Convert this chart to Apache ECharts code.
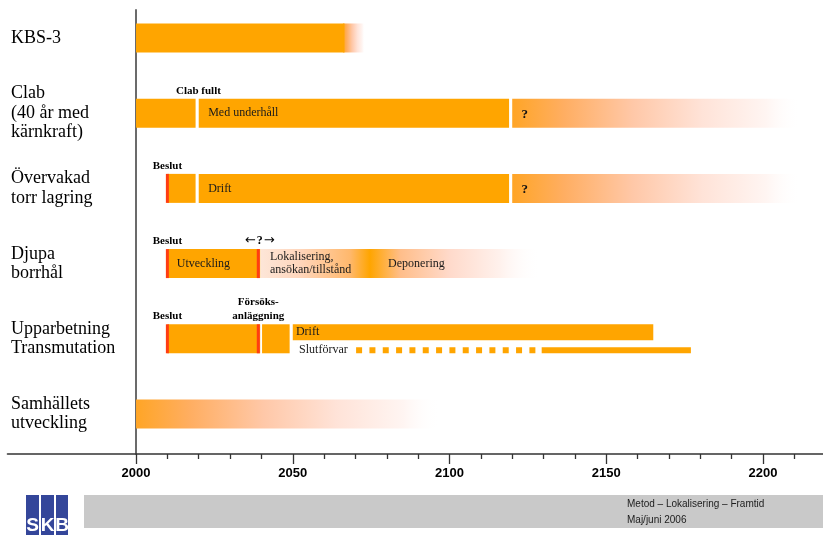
<!DOCTYPE html>
<html>
<head>
<meta charset="utf-8">
<script src="https://cdn.jsdelivr.net/npm/echarts@6/dist/echarts.min.js"></script>
<style>
  html, body { margin: 0; padding: 0; background: #fff; }
  #chart { width: 823px; height: 535px; }
</style>
</head>
<body>
<div id="chart"></div>
<script>
// ---- timeline content ----
const rowNames = [
  'KBS-3',
  'Clab\n(40 år med\nkärnkraft)',
  'Övervakad\ntorr lagring',
  'Djupa\nborrhål',
  'Upparbetning\nTransmutation',
  'Samhällets\nutveckling'
];
const rowIndex = [0, 1, 2, 3, 4, 5];

const yearLabels = [2000, 2050, 2100, 2150, 2200];
const decadeTicks = [2010, 2020, 2030, 2040, 2060, 2070, 2080, 2090, 2110, 2120, 2130, 2140,
                     2160, 2170, 2180, 2190, 2210];

// solid phases: [row, from, to]
const solidPhases = [
  [0, 2000, 2066.5],
  [1, 2000, 2019], [1, 2020, 2119],
  [2, 2010, 2019], [2, 2020, 2119],
  [3, 2010, 2039.6],
  [4, 2010, 2039.6], [4, 2040.2, 2049]
];
// open-ended phases that fade out: [row, from, to]
const fadingPhases = [
  [0, 2066, 2073],
  [1, 2120, 2212],
  [2, 2120, 2212],
  [5, 2000, 2097]
];
// phase that builds up and then fades: [row, from, to, peak]
const swellPhases = [
  [3, 2039.7, 2129, 2074.6]
];
// decisions: [row, year]
const decisions = [[2, 2010], [3, 2010], [3, 2039], [4, 2010], [4, 2039]];
// operation of the transmutation plant: [row, from, to]
const operation = [[4, 2050, 2165]];
// final repository for residues: [row, from, to]
const repositoryUncertain = [[4, 2070.2, 2127.4]];
const repositoryPlanned = [[4, 2129.4, 2177]];

// texts inside the bars: [row, year, text, lane]
const barTexts = [
  [1, 2023, 'Med underhåll', 'mid'],
  [2, 2023, 'Drift', 'mid'],
  [3, 2013, 'Utveckling', 'mid'],
  [3, 2042.7, 'Lokalisering,\nansökan/tillstånd', 'mid'],
  [3, 2080.4, 'Deponering', 'mid'],
  [4, 2051, 'Drift', 'upper'],
  [4, 2052, 'Slutförvar', 'lower']
];
const openQuestions = [[1, 2124], [2, 2124]];
// notes above the bars: [row, year, text]
const milestones = [
  [1, 2019.9, 'Clab fullt'],
  [2, 2010, 'Beslut'],
  [3, 2010, 'Beslut'],
  [3, 2039.5, '{a|\u2190}{q|?}{a|\u2192}'],
  [4, 2010, 'Beslut'],
  [4, 2039, 'Försöks-\nanläggning']
];

// ---- styling ----
const ORANGE = '#ffa500';
const RED = '#ff3d12';
const BAR_H = 29;
const SERIF = '"Liberation Serif", "Times New Roman", serif';
const SANS = '"Liberation Sans", Arial, sans-serif';

function fadeFill() {
  return new echarts.graphic.LinearGradient(0, 0, 1, 0, [
    { offset: 0, color: '#ffa526' },
    { offset: 0.18, color: '#ffae62' },
    { offset: 0.42, color: '#ffc8a8' },
    { offset: 0.66, color: '#ffe3d8' },
    { offset: 0.88, color: '#fff5f2' },
    { offset: 1, color: 'rgba(255,255,255,0)' }
  ]);
}
function swellFill(pf) {
  const after = f => pf + (1 - pf) * f;
  return new echarts.graphic.LinearGradient(0, 0, 1, 0, [
    { offset: 0, color: '#fde6d8' },
    { offset: pf * 0.36, color: '#ffd6bc' },
    { offset: pf * 0.82, color: '#ffb86c' },
    { offset: pf, color: ORANGE },
    { offset: after(0.18), color: '#ffbe8a' },
    { offset: after(0.47), color: '#ffdacb' },
    { offset: after(0.76), color: '#fff1ec' },
    { offset: 1, color: 'rgba(255,255,255,0)' }
  ]);
}

function barRect(api, row, from, to, top, h) {
  const a = api.coord([from, row]);
  const b = api.coord([to, row]);
  return { x: a[0], y: a[1] + top, width: b[0] - a[0], height: h };
}

function laneOffset(lane) {
  if (lane === 'upper') return -6.5;
  if (lane === 'lower') return 11.5;
  return 0;
}

const chart = echarts.init(document.getElementById('chart'), null, { renderer: 'canvas' });

const option = {
  animation: false,
  backgroundColor: '#ffffff',
  grid: { left: 7.5, top: 10, width: 818.2, height: 444, outerBoundsMode: 'none', containLabel: false },
  xAxis: [
    {
      type: 'value', position: 'bottom', min: 1959, max: 2220,
      axisLine: { show: true, onZero: false, lineStyle: { color: '#333333', width: 1.6 } },
      axisTick: { show: true, customValues: decadeTicks, length: 5, lineStyle: { color: '#333333', width: 1.3 } },
      axisLabel: { show: false },
      splitLine: { show: false }
    },
    {
      type: 'value', position: 'bottom', min: 1959, max: 2220,
      axisLine: { show: false, onZero: false },
      axisTick: { show: true, customValues: yearLabels, length: 10, lineStyle: { color: '#333333', width: 1.3 } },
      axisLabel: {
        show: true, customValues: yearLabels, margin: 13,
        formatter: v => String(v),
        fontFamily: SANS, fontWeight: 'bold', fontSize: 13, color: '#000'
      },
      splitLine: { show: false }
    }
  ],
  yAxis: {
    type: 'value', inverse: true, min: -0.372, max: 5.532,
    position: 'left', offset: -128.5,
    axisLine: { show: true, onZero: false, lineStyle: { color: '#6b6b6b', width: 2 } },
    axisTick: { show: false },
    splitLine: { show: false },
    axisLabel: {
      show: true, customValues: rowIndex, margin: 125, align: 'left',
      formatter: v => rowNames[v],
      fontFamily: SERIF, fontSize: 18, lineHeight: 19.5, color: '#000',
      padding: [7, 0, 0, 0]
    }
  },
  series: [
    {
      name: 'fading', type: 'custom', data: fadingPhases, z: 2,
      encode: { x: [1, 2], y: 0 },
      renderItem: (params, api) => {
        const d = fadingPhases[params.dataIndex];
        return { type: 'rect', shape: barRect(api, d[0], d[1], d[2], -BAR_H / 2, BAR_H), style: { fill: fadeFill() } };
      }
    },
    {
      name: 'swell', type: 'custom', data: swellPhases, z: 2,
      encode: { x: [1, 2], y: 0 },
      renderItem: (params, api) => {
        const d = swellPhases[params.dataIndex];
        const pf = (d[3] - d[1]) / (d[2] - d[1]);
        return { type: 'rect', shape: barRect(api, d[0], d[1], d[2], -BAR_H / 2, BAR_H), style: { fill: swellFill(pf) } };
      }
    },
    {
      name: 'solid', type: 'custom', data: solidPhases, z: 3,
      encode: { x: [1, 2], y: 0 },
      renderItem: (params, api) => {
        const d = solidPhases[params.dataIndex];
        return { type: 'rect', shape: barRect(api, d[0], d[1], d[2], -BAR_H / 2, BAR_H), style: { fill: ORANGE } };
      }
    },
    {
      name: 'operation', type: 'custom', data: operation, z: 3,
      encode: { x: [1, 2], y: 0 },
      renderItem: (params, api) => {
        const d = operation[params.dataIndex];
        return { type: 'rect', shape: barRect(api, d[0], d[1], d[2], -BAR_H / 2, 16), style: { fill: ORANGE } };
      }
    },
    {
      name: 'repository uncertain', type: 'custom', data: repositoryUncertain, z: 3,
      encode: { x: [1, 2], y: 0 },
      renderItem: (params, api) => {
        const d = repositoryUncertain[params.dataIndex];
        const a = api.coord([d[1], d[0]]);
        const b = api.coord([d[2], d[0]]);
        const y = a[1] + laneOffset('lower');
        return {
          type: 'line', shape: { x1: a[0], y1: y, x2: b[0], y2: y },
          style: { stroke: ORANGE, lineWidth: 6, lineDash: [6, 7.33] }
        };
      }
    },
    {
      name: 'repository planned', type: 'custom', data: repositoryPlanned, z: 3,
      encode: { x: [1, 2], y: 0 },
      renderItem: (params, api) => {
        const d = repositoryPlanned[params.dataIndex];
        return { type: 'rect', shape: barRect(api, d[0], d[1], d[2], laneOffset('lower') - 3, 6), style: { fill: ORANGE } };
      }
    },
    {
      name: 'decisions', type: 'custom', data: decisions, z: 4,
      encode: { x: 1, y: 0 },
      renderItem: (params, api) => {
        const d = decisions[params.dataIndex];
        const p = api.coord([d[1], d[0]]);
        return { type: 'rect', shape: { x: p[0] - 1.5, y: p[1] - BAR_H / 2, width: 3, height: BAR_H }, style: { fill: RED } };
      }
    },
    {
      name: 'bar texts', type: 'custom', data: barTexts.map(d => [d[0], d[1]]), z: 5,
      encode: { x: 1, y: 0 },
      renderItem: (params, api) => {
        const d = barTexts[params.dataIndex];
        const p = api.coord([d[1], d[0]]);
        return {
          type: 'text', x: p[0], y: p[1] + laneOffset(d[3]),
          style: { text: d[2], fill: '#1a1a1a', font: '12px ' + SERIF, align: 'left', verticalAlign: 'middle', lineHeight: 13.5 }
        };
      }
    },
    {
      name: 'open questions', type: 'custom', data: openQuestions, z: 5,
      encode: { x: 1, y: 0 },
      renderItem: (params, api) => {
        const d = openQuestions[params.dataIndex];
        const p = api.coord([d[1], d[0]]);
        return {
          type: 'text', x: p[0], y: p[1] + 1,
          style: { text: '?', fill: '#111', font: 'bold 13px ' + SERIF, align: 'center', verticalAlign: 'middle' }
        };
      }
    },
    {
      name: 'milestones', type: 'custom', data: milestones.map(d => [d[0], d[1]]), z: 5,
      encode: { x: 1, y: 0 },
      renderItem: (params, api) => {
        const d = milestones[params.dataIndex];
        const p = api.coord([d[1], d[0]]);
        return {
          type: 'text', x: p[0], y: p[1] - BAR_H / 2 - 1,
          style: {
            text: d[2], fill: '#000', font: 'bold 11px ' + SERIF, align: 'center', verticalAlign: 'bottom', lineHeight: 14,
            rich: {
              a: { font: '13px "DejaVu Sans", sans-serif', fill: '#000' },
              q: { font: 'bold 12px ' + SERIF, fill: '#000', padding: [0, 1, 0, 1] }
            }
          }
        };
      }
    }
  ],
  graphic: [
    { type: 'rect', left: 84, top: 495, shape: { width: 739, height: 33 }, style: { fill: '#c9c9c9' }, silent: true },
    { type: 'text', left: 627, top: 499, style: { text: 'Metod \u2013 Lokalisering \u2013 Framtid', fill: '#1c1c1c', font: '10px ' + SANS } },
    { type: 'text', left: 627, top: 515, style: { text: 'Maj/juni 2006', fill: '#1c1c1c', font: '10px ' + SANS } },
    {
      type: 'group', left: 26, top: 495,
      children: [
        { type: 'rect', shape: { x: 0, y: 0, width: 13, height: 40 }, style: { fill: '#34469a' } },
        { type: 'rect', shape: { x: 15, y: 0, width: 13, height: 40 }, style: { fill: '#34469a' } },
        { type: 'rect', shape: { x: 30, y: 0, width: 12, height: 40 }, style: { fill: '#34469a' } },
        { type: 'text', x: 6.5, y: 40, style: { text: 'S', fill: '#fff', font: 'bold 19px "Liberation Sans Narrow", ' + SANS, align: 'center', verticalAlign: 'bottom' } },
        { type: 'text', x: 21.5, y: 40, style: { text: 'K', fill: '#fff', font: 'bold 19px "Liberation Sans Narrow", ' + SANS, align: 'center', verticalAlign: 'bottom' } },
        { type: 'text', x: 36, y: 40, style: { text: 'B', fill: '#fff', font: 'bold 19px "Liberation Sans Narrow", ' + SANS, align: 'center', verticalAlign: 'bottom' } }
      ]
    }
  ]
};

chart.setOption(option);
</script>
</body>
</html>
